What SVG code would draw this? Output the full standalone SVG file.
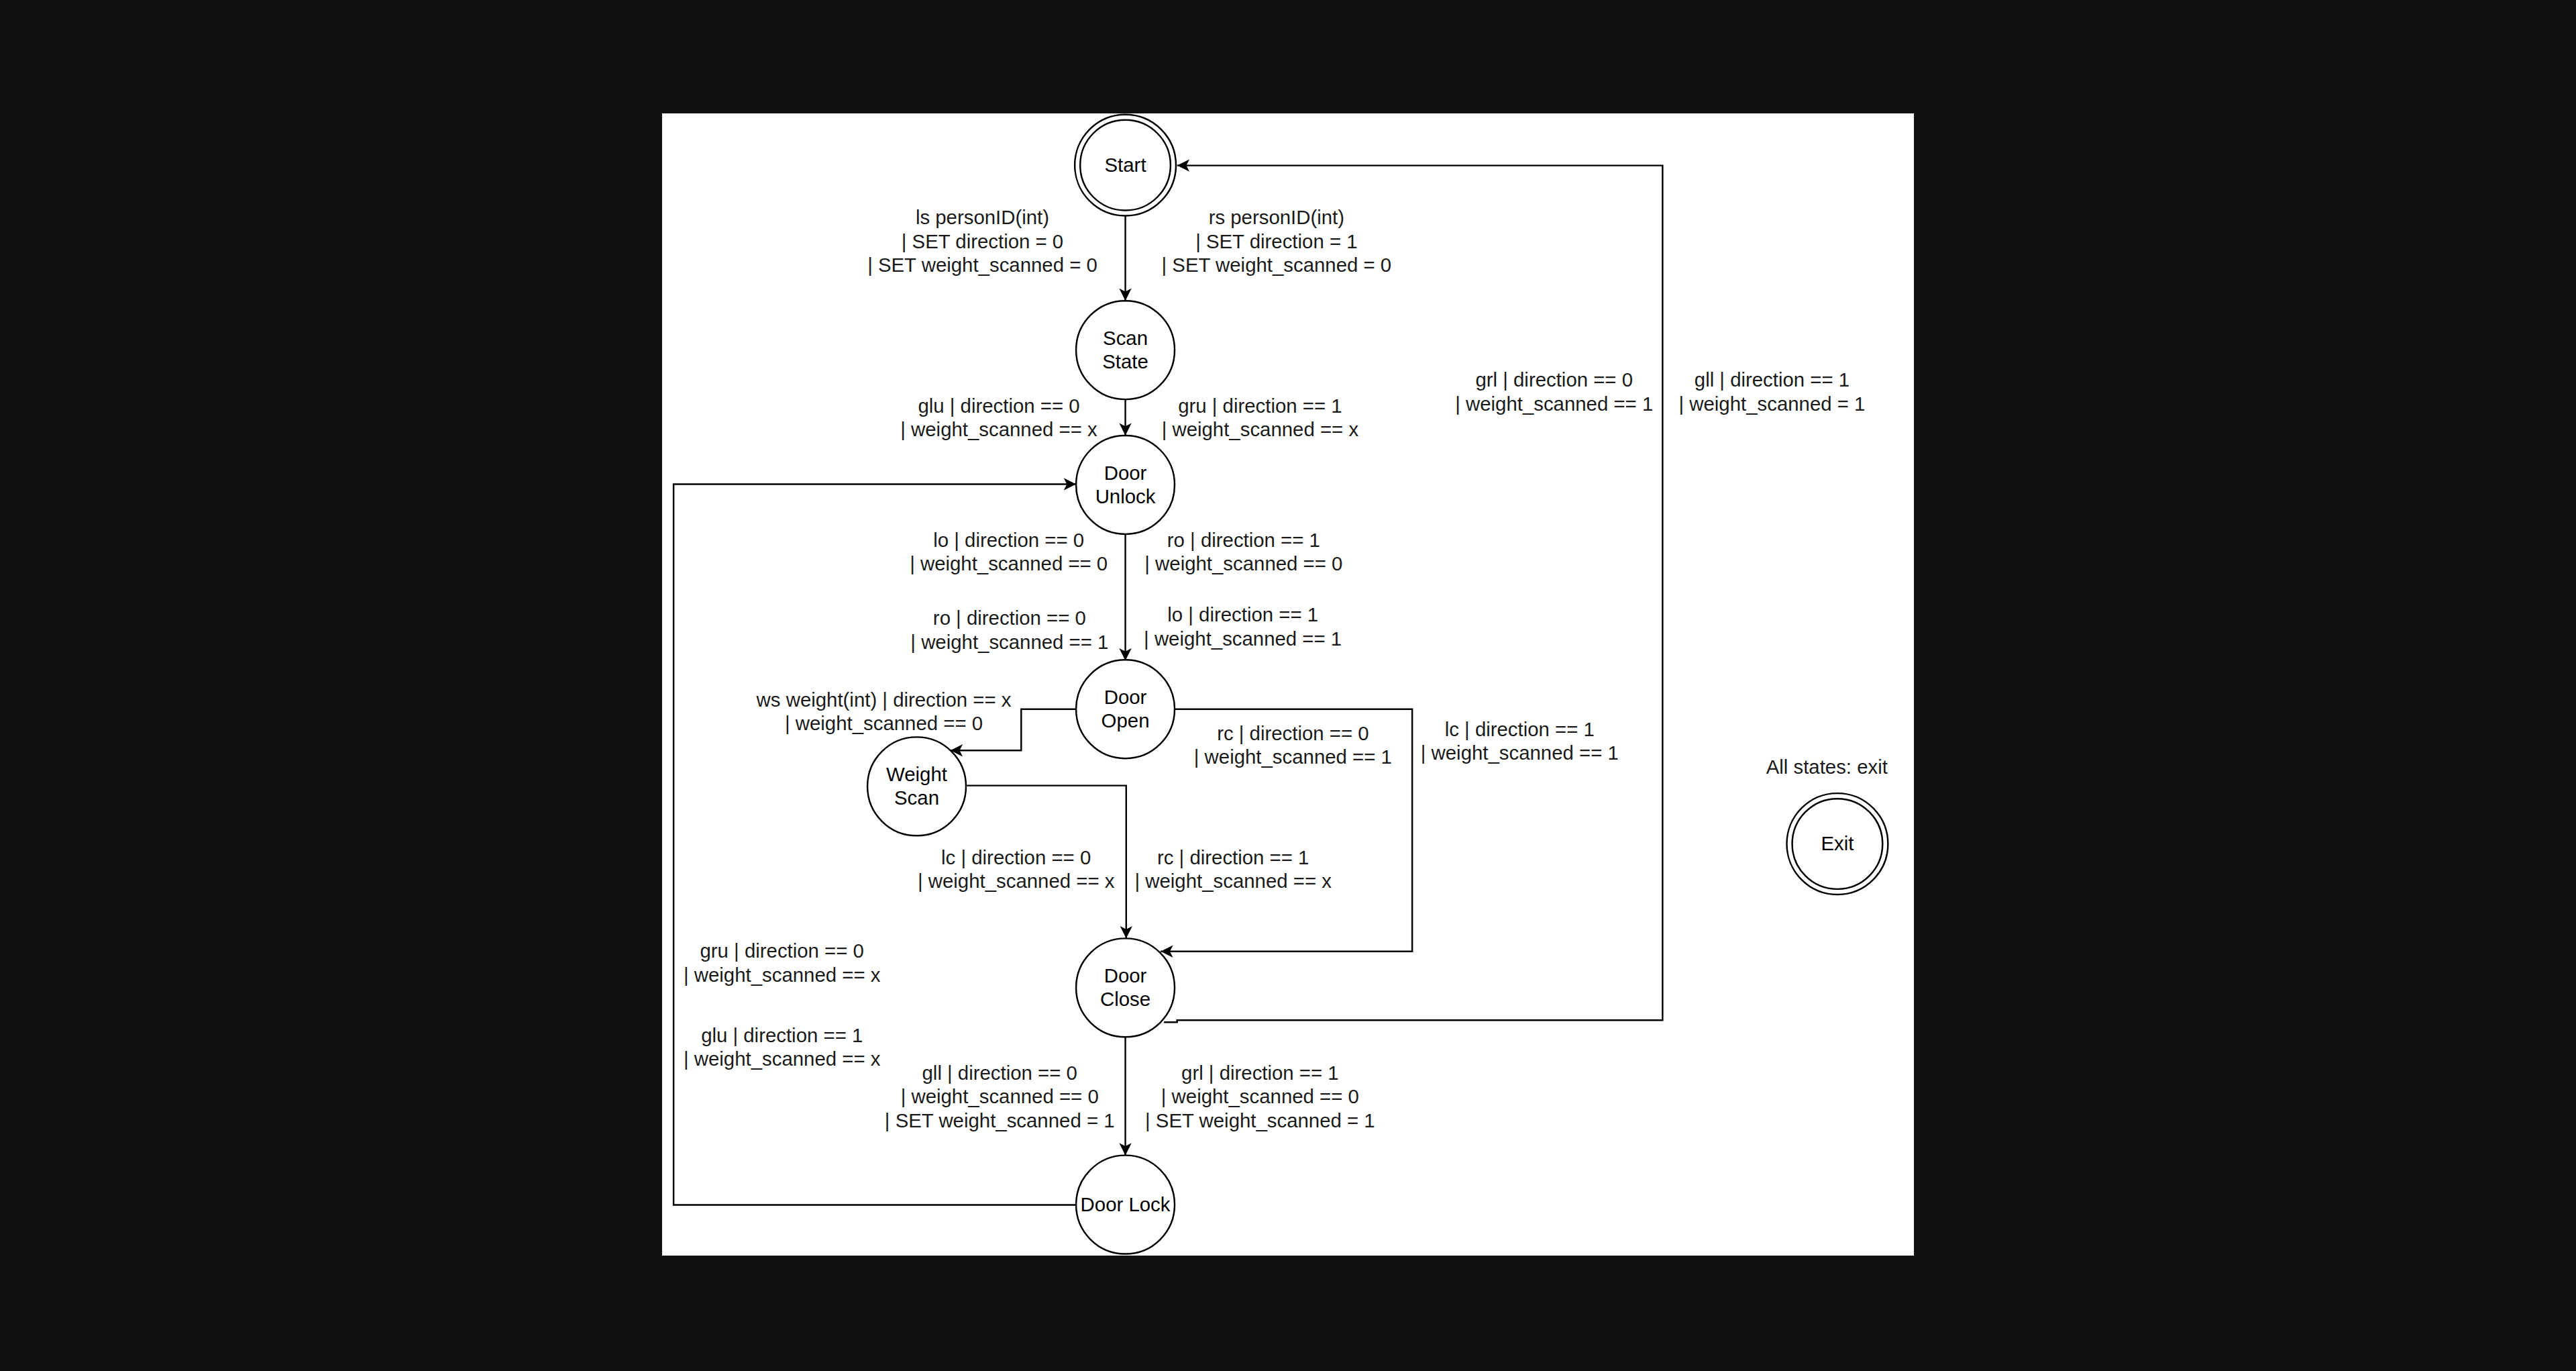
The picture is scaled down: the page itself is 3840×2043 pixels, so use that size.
<svg xmlns="http://www.w3.org/2000/svg" width="3840" height="2043" viewBox="0 0 3840 2043">
<style>
.st{fill:#ffffff;stroke:#000000;stroke-width:1}
.nt{font-family:"Liberation Sans",Arial,Helvetica,sans-serif;font-size:12px;fill:#000000;text-anchor:middle}
.lb{font-family:"Liberation Sans",Arial,Helvetica,sans-serif;font-size:12px;fill:#1a1a1a;text-anchor:middle}
.ed{fill:none;stroke:#000000;stroke-width:1}
</style>
<defs>
<marker id="arr" markerUnits="userSpaceOnUse" markerWidth="10" markerHeight="10" viewBox="0 0 10 10" refX="9" refY="5" orient="auto" overflow="visible">
<path d="M9,5 L1.5,1.25 L3.4,5 L1.5,8.75 Z" fill="#000000"/>
</marker>
</defs>
<rect x="0" y="0" width="3840" height="2043" fill="#0f0f0f"/>
<g transform="scale(2.44898)">
<rect x="403" y="69" width="762" height="695" fill="#ffffff"/>

<g id="connectors">
<path class="ed" d="M685,131 L685,183" marker-end="url(#arr)"/>
<path class="ed" d="M685,243 L685,265" marker-end="url(#arr)"/>
<path class="ed" d="M685,325 L685,402" marker-end="url(#arr)"/>
<path class="ed" d="M655,431.5 L621.6,431.5 L621.6,456.6 L578.5,456.6" marker-end="url(#arr)"/>
<path class="ed" d="M715,431.5 L859.6,431.5 L859.6,578.9 L706.5,578.9" marker-end="url(#arr)"/>
<path class="ed" d="M588.5,478 L685.5,478 L685.5,571" marker-end="url(#arr)"/>
<path class="ed" d="M685,631 L685,703" marker-end="url(#arr)"/>
<path class="ed" d="M708.5,622 L716.5,622 L716.5,620.8 L1012,620.8 L1012,100.7 L716.5,100.7" marker-end="url(#arr)"/>
<path class="ed" d="M655,733.2 L410,733.2 L410,294.6 L655,294.6" marker-end="url(#arr)"/>

<text class="lb" x="598" y="136.5">ls personID(int)</text>
<text class="lb" x="598" y="150.9">| SET direction = 0</text>
<text class="lb" x="598" y="165.3">| SET weight_scanned = 0</text>
<text class="lb" x="777" y="136.5">rs personID(int)</text>
<text class="lb" x="777" y="150.9">| SET direction = 1</text>
<text class="lb" x="777" y="165.3">| SET weight_scanned = 0</text>

<text class="lb" x="608" y="251">glu | direction == 0</text>
<text class="lb" x="608" y="265.4">| weight_scanned == x</text>
<text class="lb" x="767" y="251">gru | direction == 1</text>
<text class="lb" x="767" y="265.4">| weight_scanned == x</text>

<text class="lb" x="614" y="332.7">lo | direction == 0</text>
<text class="lb" x="614" y="347.1">| weight_scanned == 0</text>
<text class="lb" x="757" y="332.7">ro | direction == 1</text>
<text class="lb" x="757" y="347.1">| weight_scanned == 0</text>

<text class="lb" x="614.5" y="380.3">ro | direction == 0</text>
<text class="lb" x="614.5" y="394.7">| weight_scanned == 1</text>
<text class="lb" x="756.5" y="378.3">lo | direction == 1</text>
<text class="lb" x="756.5" y="392.7">| weight_scanned == 1</text>

<text class="lb" x="538" y="430">ws weight(int) | direction == x</text>
<text class="lb" x="538" y="444.4">| weight_scanned == 0</text>

<text class="lb" x="787" y="450.4">rc | direction == 0</text>
<text class="lb" x="787" y="464.8">| weight_scanned == 1</text>
<text class="lb" x="925" y="448">lc | direction == 1</text>
<text class="lb" x="925" y="462.4">| weight_scanned == 1</text>

<text class="lb" x="618.5" y="526">lc | direction == 0</text>
<text class="lb" x="618.5" y="540.4">| weight_scanned == x</text>
<text class="lb" x="750.6" y="526">rc | direction == 1</text>
<text class="lb" x="750.6" y="540.4">| weight_scanned == x</text>

<text class="lb" x="476" y="582.8">gru | direction == 0</text>
<text class="lb" x="476" y="597.2">| weight_scanned == x</text>
<text class="lb" x="476" y="634">glu | direction == 1</text>
<text class="lb" x="476" y="648.4">| weight_scanned == x</text>

<text class="lb" x="608.5" y="657">gll | direction == 0</text>
<text class="lb" x="608.5" y="671.4">| weight_scanned == 0</text>
<text class="lb" x="608.5" y="685.8">| SET weight_scanned = 1</text>
<text class="lb" x="767" y="657">grl | direction == 1</text>
<text class="lb" x="767" y="671.4">| weight_scanned == 0</text>
<text class="lb" x="767" y="685.8">| SET weight_scanned = 1</text>

<text class="lb" x="946" y="235.3">grl | direction == 0</text>
<text class="lb" x="946" y="249.7">| weight_scanned == 1</text>
<text class="lb" x="1078.6" y="235.3">gll | direction == 1</text>
<text class="lb" x="1078.6" y="249.7">| weight_scanned = 1</text>
</g>

<g id="node-start">
<circle class="st" cx="685" cy="100.5" r="30.8"/>
<circle class="st" cx="685" cy="100.5" r="27.5"/>
<text class="nt" x="685" y="104.5">Start</text>
</g>
<g id="node-scan-state">
<circle class="st" cx="685" cy="213" r="30"/>
<text class="nt" x="685" y="209.8">Scan</text>
<text class="nt" x="685" y="224.2">State</text>
</g>
<g id="node-door-unlock">
<circle class="st" cx="685" cy="295" r="30"/>
<text class="nt" x="685" y="291.8">Door</text>
<text class="nt" x="685" y="306.2">Unlock</text>
</g>
<g id="node-door-open">
<circle class="st" cx="685" cy="431.5" r="30"/>
<text class="nt" x="685" y="428.3">Door</text>
<text class="nt" x="685" y="442.7">Open</text>
</g>
<g id="node-weight-scan">
<circle class="st" cx="558" cy="478.5" r="30"/>
<text class="nt" x="558" y="475.3">Weight</text>
<text class="nt" x="558" y="489.7">Scan</text>
</g>
<g id="node-door-close">
<circle class="st" cx="685" cy="601" r="30"/>
<text class="nt" x="685" y="597.8">Door</text>
<text class="nt" x="685" y="612.2">Close</text>
</g>
<g id="node-door-lock">
<circle class="st" cx="685" cy="733" r="30"/>
<text class="nt" x="685" y="737.2">Door Lock</text>
</g>
<g id="node-exit">
<text class="lb" x="1112" y="471">All states: exit</text>
<circle class="st" cx="1118.4" cy="513.5" r="30.8"/>
<circle class="st" cx="1118.4" cy="513.5" r="27.5"/>
<text class="nt" x="1118.4" y="517.5">Exit</text>
</g>
</g>
</svg>
